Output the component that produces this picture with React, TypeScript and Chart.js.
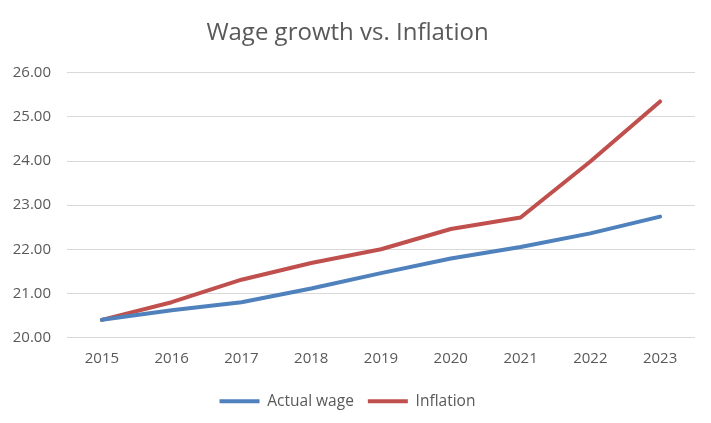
import React, { useEffect, useRef } from "react";
import { Chart, registerables } from "chart.js";

Chart.register(...registerables);

const years = ["2015", "2016", "2017", "2018", "2019", "2020", "2021", "2022", "2023"];
const actualWage = [20.4, 20.62, 20.8, 21.11, 21.46, 21.79, 22.05, 22.36, 22.74];
const inflation = [20.4, 20.8, 21.31, 21.69, 22.0, 22.46, 22.72, 23.99, 25.35];
const yMin = 20;
const yMax = 26;

const FONT = "'Open Sans', 'Liberation Sans', sans-serif";
const TEXT = "#595959";

export default function App() {
  const ref = useRef<HTMLCanvasElement | null>(null);
  useEffect(() => {
    document.body.style.margin = "0";
    if (!ref.current) return;
    const chart = new Chart(ref.current, {
      type: "line",
      data: {
        labels: years,
        datasets: [
          {
            label: "Actual wage",
            data: actualWage,
            borderColor: "#4F81BD",
            backgroundColor: "#4F81BD",
            borderWidth: 4,
            borderCapStyle: "round",
            borderJoinStyle: "round",
            pointRadius: 0,
            tension: 0,
          },
          {
            label: "Inflation",
            data: inflation,
            borderColor: "#C0504D",
            backgroundColor: "#C0504D",
            borderWidth: 4,
            borderCapStyle: "round",
            borderJoinStyle: "round",
            pointRadius: 0,
            tension: 0,
          },
        ],
      },
      options: {
        animation: false,
        responsive: false,
        maintainAspectRatio: false,
        layout: { padding: { left: 0, right: 16, top: 0, bottom: 4 } },
        plugins: {
          title: {
            display: true,
            text: "Wage growth vs. Inflation",
            color: TEXT,
            font: { family: FONT, size: 24, weight: "normal" },
            padding: { top: 19, bottom: 25 },
          },
          legend: {
            position: "bottom",
            labels: {
              usePointStyle: true,
              pointStyle: "line",
              pointStyleWidth: 40,
              color: TEXT,
              font: { family: FONT, size: 15.5 },
              padding: 14,
            },
          },
          tooltip: { enabled: false },
        },
        scales: {
          x: {
            offset: true,
            grid: { display: false, drawTicks: false },
            border: { display: false },
            ticks: { color: TEXT, font: { family: FONT, size: 15 }, padding: 12 },
          },
          y: {
            min: yMin,
            max: yMax,
            ticks: {
              stepSize: 1,
              color: TEXT,
              font: { family: FONT, size: 15 },
              padding: 16,
              callback: (v: any) => Number(v).toFixed(2),
            },
            grid: { color: "#D9D9D9", lineWidth: 1, drawTicks: false },
            border: { display: false },
            afterFit: (s: any) => {
              s.width = 67;
            },
          },
        },
      },
    });
    return () => chart.destroy();
  }, []);
  return (
    <div style={{ position: "absolute", left: 0, top: 0, width: 711, height: 423 }}>
      <canvas ref={ref} width={711} height={423} style={{ width: 711, height: 423 }} />
    </div>
  );
}
